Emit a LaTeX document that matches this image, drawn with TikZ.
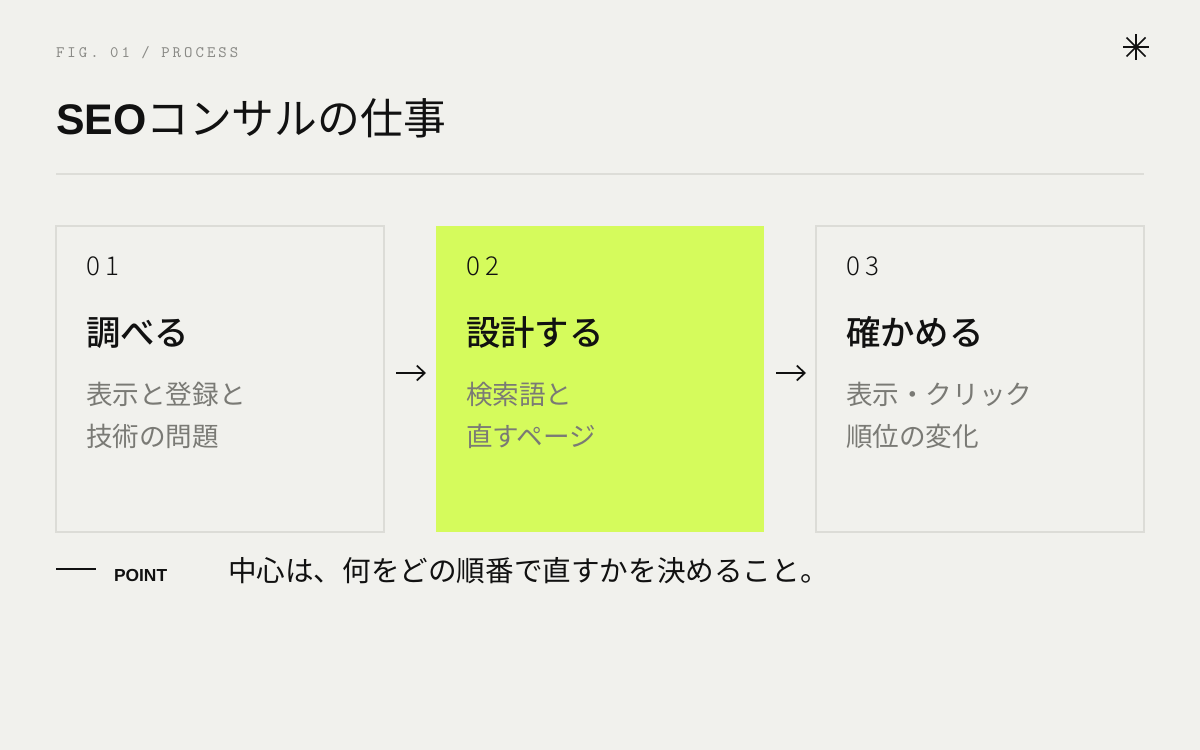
\documentclass[tikz,border=0pt]{standalone}
\usepackage{fontspec}
\usetikzlibrary{arrows.meta}
\setmainfont{Noto Sans CJK JP}
\newfontfamily\jpfont{Noto Sans CJK JP}
\newfontfamily\jpmed{Noto Sans CJK JP Medium}
\newfontfamily\latinsans{Liberation Sans}
\newfontfamily\figmono[LetterSpace=19]{lmmono10-regular.otf}
\newfontfamily\numfont[LetterSpace=22]{Noto Sans CJK JP Light}
\definecolor{bgc}{HTML}{F1F1ED}
\definecolor{limec}{HTML}{D5FB5C}
\definecolor{borderc}{HTML}{DCDCD7}
\definecolor{rulec}{HTML}{DDDDD8}
\definecolor{figc}{HTML}{8A8A86}
\definecolor{descc}{HTML}{7A7A75}
\definecolor{inkc}{HTML}{111111}
\tikzset{
  stepbox/.style={draw=borderc, line width=1pt, fill=bgc, inner sep=0pt, outer sep=0pt,
    minimum width=164pt, minimum height=153pt, anchor=north west},
  limebox/.style={fill=limec, draw=none, inner sep=0pt, outer sep=0pt,
    minimum width=164pt, minimum height=153pt, anchor=north west},
  txt/.style={anchor=base west, inner sep=0pt, outer sep=0pt},
  numtxt/.style={txt, font=\numfont\fontsize{13pt}{15pt}\selectfont, text=inkc},
  headtxt/.style={txt, font=\jpmed\fontsize{17.2pt}{20pt}\selectfont, text=inkc},
  desctxt/.style={txt, font=\jpfont\fontsize{13.3pt}{21pt}\selectfont, text=descc, align=left},
  flowarrow/.style={draw=inkc, line width=0.85pt, -{Straight Barb[length=4pt,width=7.5pt,line width=0.85pt]},
    shorten <=6pt, shorten >=5pt},
}
\begin{document}
\begin{tikzpicture}[x=0.5pt,y=-0.5pt]
\fill[bgc] (0,0) rectangle (1200,750);
\useasboundingbox (0,0) rectangle (1200,750);

% header
\node[txt, font=\figmono\fontsize{8pt}{9pt}\selectfont, text=figc] (fig) at (56,57) {FIG. 01 / PROCESS};
\node[txt, text=inkc] (title) at (56,134) {{\latinsans\bfseries\fontsize{21.4pt}{24pt}\selectfont SEO}{\jpfont\fontsize{21.4pt}{24pt}\selectfont コンサルの仕事}};
\coordinate (rl) at (56,174);
\coordinate (rr) at (1144,174);
\draw[rulec, line width=1pt] (rl) -- (rr);

% asterisk
\begin{scope}[shift={(1136,47)}]
  \draw[inkc, line width=0.8pt] (-13,0) -- (13,0);
  \draw[inkc, line width=0.8pt] (0,-13) -- (0,13);
  \draw[inkc, line width=0.8pt] (-9.5,-9.5) -- (9.5,9.5);
  \draw[inkc, line width=0.8pt] (-9.5,9.5) -- (9.5,-9.5);
\end{scope}

% boxes
\node[stepbox] (b1) at (56,226) {};
\node[limebox] (b2) at (436,226) {};
\node[stepbox] (b3) at (816,226) {};

% box 1
\node[numtxt] (n1) at (86,275) {01};
\node[headtxt] (h1) at (86,345) {調べる};
\node[desctxt] (d1a) at (86,404) {表示と登録と};
\node[desctxt] (d1b) at (86,446) {技術の問題};

% box 2
\node[numtxt] (n2) at (466,275) {02};
\node[headtxt] (h2) at (466,345) {設計する};
\node[desctxt] (d2a) at (466,404) {検索語と};
\node[desctxt] (d2b) at (466,446) {直すページ};

% box 3
\node[numtxt] (n3) at (846,275) {03};
\node[headtxt] (h3) at (846,345) {確かめる};
\node[desctxt] (d3a) at (846,404) {表示・クリック};
\node[desctxt] (d3b) at (846,446) {順位の変化};

% arrows
\draw[flowarrow] ([yshift=3pt]b1.east) -- ([yshift=3pt]b2.west);
\draw[flowarrow] ([yshift=3pt]b2.east) -- ([yshift=3pt]b3.west);

% point
\coordinate (pl) at (56,569);
\coordinate (pr) at (96,569);
\draw[inkc, line width=0.75pt] (pl) -- (pr);
\node[txt, font=\latinsans\bfseries\fontsize{8.7pt}{10pt}\selectfont, text=inkc] (point) at (114,581) {POINT};
\node[txt, font=\jpfont\fontsize{14.3pt}{17pt}\selectfont, text=inkc] (pt) at (228,581) {中心は、何をどの順番で直すかを決めること。};
\end{tikzpicture}
\end{document}
